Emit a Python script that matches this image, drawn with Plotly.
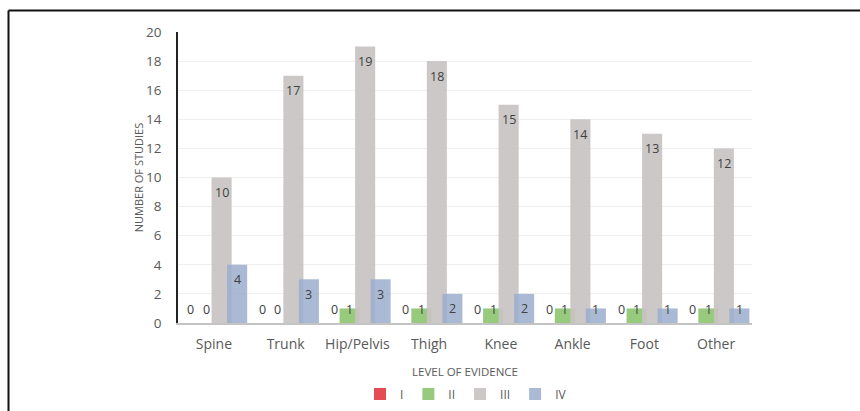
import plotly.graph_objects as go

# Body regions and number of studies per level of evidence
regions = ["Spine", "Trunk", "Hip/Pelvis", "Thigh", "Knee", "Ankle", "Foot", "Other"]
level_names = ["I", "II", "III", "IV"]
level_i = [0, 0, 0, 0, 0, 0, 0, 0]
level_ii = [0, 0, 1, 1, 1, 1, 1, 1]
level_iii = [10, 17, 19, 18, 15, 14, 13, 12]
level_iv = [4, 3, 3, 2, 2, 1, 1, 1]
y_ticks = [0, 2, 4, 6, 8, 10, 12, 14, 16, 18, 20]

series = [level_i, level_ii, level_iii, level_iv]
colors = ["rgba(224,56,63,0.9)", "rgba(141,196,112,0.9)",
          "rgba(200,195,194,0.92)", "rgba(155,174,204,0.85)"]
centers = [-0.324, -0.108, 0.108, 0.324]   # bar centres within a category
bar_w = 0.28
W, H = 860, 411
L, R, T, B = 178, 108, 32, 88
plot_w = W - L - R
plot_h = H - T - B

fig = go.Figure()
for name, vals, col, c in zip(level_names, series, colors, centers):
    fig.add_trace(go.Bar(
        x=regions, y=vals, name=name,
        marker=dict(color=col, line=dict(width=0)),
        width=bar_w, offset=c - bar_w / 2,
        hoverinfo="x+y",
    ))

# value labels near the top of each bar (kept above the baseline for short bars)
annotations = []
for vals, c in zip(series, centers):
    for reg, v in zip(regions, vals):
        annotations.append(dict(
            x=reg, y=max(v - 1.03, 0.9), xref="x", yref="y",
            text=str(v), showarrow=False,
            xshift=c * plot_w / len(regions),
            font=dict(family="Open Sans", size=12.5, color="#404040"),
        ))

# frame lines along the top and left of the figure
px_x = lambda p: (p - L) / plot_w
px_y = lambda p: (H - B - p) / plot_h
shapes = [
    dict(type="line", xref="paper", yref="paper",
         x0=px_x(8.5), x1=px_x(870), y0=px_y(10.5), y1=px_y(10.5),
         line=dict(color="#111111", width=2)),
    dict(type="line", xref="paper", yref="paper",
         x0=px_x(8.5), x1=px_x(8.5), y0=px_y(10.5), y1=px_y(420),
         line=dict(color="#111111", width=2)),
]

fig.update_layout(
    width=W, height=H,
    margin=dict(l=L, r=R, t=T, b=B, pad=0, autoexpand=False),
    paper_bgcolor="white", plot_bgcolor="white",
    barmode="overlay",
    font=dict(family="Open Sans", color="#595959"),
    annotations=annotations,
    shapes=shapes,
    showlegend=True,
    legend=dict(orientation="h", xref="container", yref="container",
                x=466 / W, xanchor="center",
                y=1 - 394 / H, yanchor="middle",
                font=dict(size=12, color="#595959"),
                itemwidth=30, tracegroupgap=0,
                traceorder="normal", bgcolor="rgba(0,0,0,0)"),
    xaxis=dict(
        title=dict(text="LEVEL OF EVIDENCE", font=dict(size=11.5, color="#595959"), standoff=16),
        tickfont=dict(size=14, color="#595959"),
        ticklabelstandoff=7,
        showline=True, linecolor="#c4c4c4", linewidth=1.5,
        ticks="", showgrid=False, range=[-0.5, 7.5],
    ),
    yaxis=dict(
        title=dict(text="NUMBER OF STUDIES", font=dict(size=11, color="#595959"), standoff=0),
        tickfont=dict(size=13.5, color="#595959"),
        ticklabelstandoff=12,
        tickvals=y_ticks, range=[0, 20],
        showline=True, linecolor="#222222", linewidth=1.5,
        showgrid=True, gridcolor="#efefef", gridwidth=1,
        ticks="", zeroline=False,
    ),
)

fig.write_html("out.html")
